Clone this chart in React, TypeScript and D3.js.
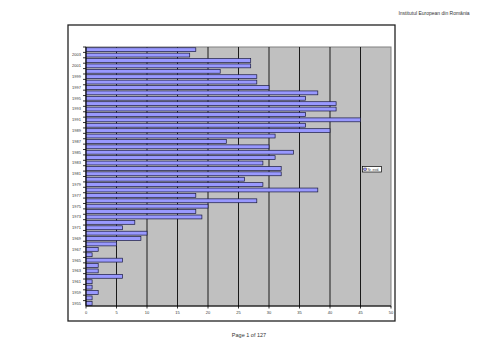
import React from "react";
import * as d3 from "d3";

const years: string[] = [
  "1955", "1957", "1959", "1960", "1961", "1962", "1963", "1964", "1965", "1966",
  "1967", "1968", "1969", "1970", "1971", "1972", "1973", "1974", "1975", "1976",
  "1977", "1978", "1979", "1980", "1981", "1982", "1983", "1984", "1985", "1986",
  "1987", "1988", "1989", "1990", "1991", "1992", "1993", "1994", "1995", "1996",
  "1997", "1998", "1999", "2000", "2001", "2002", "2003", "2004",
];
const values: number[] = [
  1, 1, 2, 1, 1, 6, 2, 2, 6, 1,
  2, 5, 9, 10, 6, 8, 19, 18, 20, 28,
  18, 38, 29, 26, 32, 32, 29, 31, 34, 30,
  23, 31, 40, 36, 45, 36, 41, 41, 36, 38,
  30, 28, 28, 22, 27, 27, 17, 18,
];
const xTicks: number[] = [0, 5, 10, 15, 20, 25, 30, 35, 40, 45, 50];
const seriesName = "Nr. evid.";
const headerText = "Institutul European din România";
const footerText = "Page 1 of 127";

export default function App() {
  const W = 500, H = 353;
  const plot = { left: 86, right: 391, top: 47, bottom: 306 };
  const x = d3.scaleLinear().domain([0, 50]).range([plot.left, plot.right]);
  const y = d3
    .scaleBand<string>()
    .domain([...years].reverse())
    .range([plot.top, plot.bottom])
    .paddingInner(0.28)
    .paddingOuter(0.14);
  const step = y.step();
  const font = "'Liberation Sans', Arial, sans-serif";

  return (
    <div style={{ position: "fixed", left: 0, top: 0, width: W, height: H, background: "#fff" }}>
      <svg width={W} height={H} style={{ display: "block" }}>
        <rect x={0} y={0} width={W} height={H} fill="#fff" />
        <text x={434} y={15} fontFamily={font} fontSize={5} textAnchor="middle" fill="#333">
          {headerText}
        </text>
        {/* outer chart border */}
        <rect x={68} y={25} width={327} height={296} fill="#fff" stroke="#222" strokeWidth={1.3} />
        {/* plot area */}
        <rect
          x={plot.left}
          y={plot.top}
          width={plot.right - plot.left}
          height={plot.bottom - plot.top}
          fill="#C0C0C0"
          stroke="#808080"
          strokeWidth={1}
        />
        {xTicks.slice(1, -1).map((t) => (
          <line key={"g" + t} x1={x(t)} x2={x(t)} y1={plot.top} y2={plot.bottom} stroke="#1a1a1a" strokeWidth={1} />
        ))}
        {years.map((yr, i) => (
          <rect
            key={yr}
            x={x(0)}
            y={y(yr)!}
            width={x(values[i]) - x(0)}
            height={y.bandwidth()}
            fill="#9999FF"
            stroke="#1a1a40"
            strokeWidth={0.7}
          />
        ))}
        {/* axes */}
        <line x1={plot.left} x2={plot.left} y1={plot.top} y2={plot.bottom} stroke="#000" strokeWidth={1} />
        <line x1={plot.left} x2={plot.right} y1={plot.bottom} y2={plot.bottom} stroke="#000" strokeWidth={1} />
        {years.map((yr, i) => (
          <line
            key={"yt" + yr}
            x1={plot.left - 3}
            x2={plot.left}
            y1={y(yr)! - (step - y.bandwidth()) / 2}
            y2={y(yr)! - (step - y.bandwidth()) / 2}
            stroke="#000"
            strokeWidth={0.8}
          />
        ))}
        {years.map((yr, i) =>
          i % 2 === 0 ? (
            <text
              key={"yl" + yr}
              x={plot.left - 5}
              y={y(yr)! + y.bandwidth() / 2 + 1.4}
              fontFamily={font}
              fontSize={4}
              textAnchor="end"
              fill="#333"
            >
              {i === 1 ? "" : yr}
            </text>
          ) : null
        )}
        {xTicks.map((t) => (
          <g key={"xt" + t}>
            <line x1={x(t)} x2={x(t)} y1={plot.bottom} y2={plot.bottom + 2.5} stroke="#000" strokeWidth={0.8} />
            <text x={x(t)} y={plot.bottom + 7.5} fontFamily={font} fontSize={4} textAnchor="middle" fill="#333">
              {t}
            </text>
          </g>
        ))}
        {/* legend */}
        <rect x={362.5} y={166.5} width={19} height={5.5} fill="#fff" stroke="#000" strokeWidth={0.7} />
        <rect x={363.8} y={168} width={2.5} height={2.5} fill="#9999FF" stroke="#000" strokeWidth={0.4} />
        <text x={367.5} y={170.6} fontFamily={font} fontSize={3.2} fill="#333">
          {seriesName}
        </text>
        <text x={249} y={337} fontFamily={font} fontSize={5.5} textAnchor="middle" fill="#333">
          {footerText}
        </text>
      </svg>
    </div>
  );
}
